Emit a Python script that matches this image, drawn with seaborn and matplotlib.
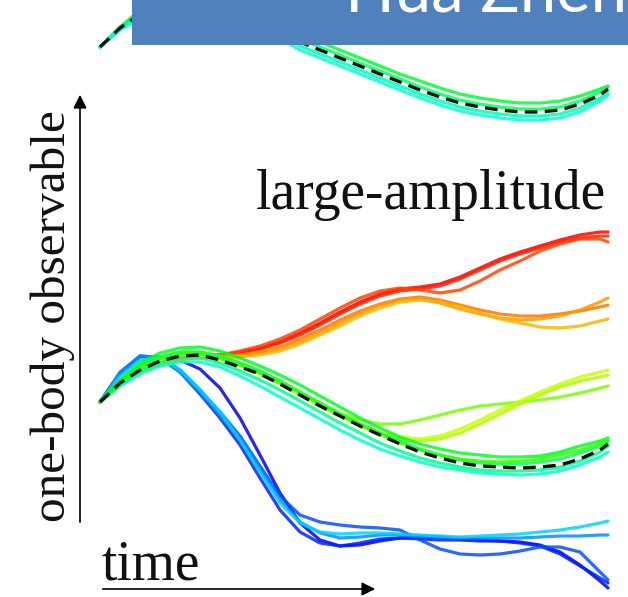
import matplotlib
matplotlib.use("Agg")
import matplotlib.pyplot as plt
import matplotlib.patches as mpatches
import pandas as pd
import seaborn as sns

sns.set_style("white")
plt.rcParams["font.family"] = ["Liberation Serif", "DejaVu Serif"]

# ---- data (time samples, observable values, screen rows) ----
time = [100, 120, 140, 160, 180, 200, 220, 240, 260, 280, 300, 320, 340, 360,
        380, 400, 420, 440, 460, 480, 500, 520, 540, 560, 580, 600, 608]

# small-amplitude panel (top, mostly hidden under the banner)
small_mean = [47, 28, 14, 6, 1, 0, 4, 12, 22, 32, 42, 50, 58, 66, 74, 82, 90, 97, 103, 107, 110, 112, 112, 110, 104, 95, 89]
small_a = [47, 27, 10, -2, -8, -9, -6, 2, 12, 22, 34, 42, 50, 58, 66, 74, 81, 88, 94, 98, 101, 103, 103, 101, 96, 89, 86]
small_c = [47, 28, 13, 4, -2, -3, 0, 8, 18, 28, 39, 47, 55, 63, 71, 79, 87, 94, 100, 104, 107, 109, 109, 107, 101, 92, 87]
small_b = [47, 29, 16, 9, 5, 5, 9, 16, 25, 35, 46, 54, 62, 70, 78, 86, 94, 101, 107, 111, 114, 116, 116, 114, 108, 98, 93]
small_d = [47, 30, 18, 11, 8, 8, 12, 20, 29, 39, 50, 58, 66, 74, 82, 90, 98, 105, 111, 115, 118, 120, 120, 118, 112, 101, 95]

# large-amplitude panel
large_mean = [402, 383, 370, 361, 356, 355, 360, 367, 374, 384, 395, 406, 416, 426, 435, 444, 452, 458, 463, 466, 467, 468, 467, 465, 459, 450, 444]

blue_1 = [402, 382, 366, 358, 360, 369, 388, 418, 455, 493, 523, 540, 546, 545, 541, 538, 537, 537, 539, 540, 541, 542, 545, 552, 565, 581, 588]
blue_2 = [402, 374, 357, 357, 370, 390, 412, 436, 466, 496, 515, 522, 525, 527, 528, 530, 540, 549, 554, 555, 554, 551, 547, 547, 552, 572, 580]
blue_3 = [402, 372, 356, 357, 372, 392, 415, 440, 470, 500, 522, 533, 538, 537, 535, 535, 536, 537, 538, 538, 538, 538, 537, 536, 536, 535, 535]
blue_4 = [402, 376, 360, 358, 370, 390, 412, 440, 472, 503, 523, 532, 534, 533, 533, 534, 535, 536, 537, 536, 535, 534, 532, 530, 527, 523, 521]
blue_5 = [402, 373, 356, 358, 372, 394, 418, 445, 478, 510, 532, 543, 546, 543, 539, 538, 539, 540, 540, 541, 541, 543, 546, 554, 566, 578, 583]

green_1 = [402, 380, 363, 353, 348, 347, 351, 358, 366, 375, 385, 396, 407, 418, 428, 437, 444, 449, 453, 455, 457, 457, 456, 452, 446, 441, 438]
green_2 = [402, 384, 371, 363, 358, 358, 363, 371, 380, 390, 401, 412, 423, 433, 443, 451, 458, 463, 467, 470, 471, 471, 470, 467, 461, 452, 446]
green_3 = [402, 386, 374, 366, 362, 362, 367, 376, 386, 397, 408, 419, 430, 440, 449, 456, 462, 467, 470, 473, 474, 475, 474, 471, 465, 457, 452]
green_4 = [402, 381, 366, 357, 352, 352, 356, 363, 371, 381, 392, 403, 414, 424, 433, 441, 449, 455, 460, 463, 464, 464, 462, 459, 453, 446, 441]
green_5 = [402, 382, 368, 359, 354, 354, 358, 365, 373, 383, 393, 404, 415, 425, 434, 443, 450, 455, 459, 461, 462, 461, 459, 455, 450, 444, 441]

yellow_1 = [402, 381, 366, 357, 352, 352, 356, 363, 371, 381, 392, 403, 413, 420, 424, 424, 420, 415, 410, 406, 404, 402, 400, 397, 393, 388, 386]
yellow_2 = [402, 382, 368, 359, 354, 354, 358, 365, 373, 383, 393, 404, 414, 424, 432, 437, 439, 436, 429, 420, 410, 401, 392, 384, 377, 372, 370]
yellow_3 = [402, 383, 369, 360, 355, 355, 359, 366, 374, 384, 395, 406, 416, 426, 434, 439, 441, 439, 433, 424, 414, 404, 395, 387, 381, 377, 375]

red_1 = [402, 384, 371, 363, 358, 356, 355, 352, 348, 342, 333, 323, 312, 302, 294, 289, 287, 284, 277, 268, 259, 252, 246, 240, 235, 232, 232]
red_2 = [402, 384, 371, 363, 358, 356, 355, 353, 349, 343, 335, 325, 314, 304, 296, 291, 289, 286, 279, 270, 261, 254, 248, 242, 238, 236, 236]
red_3 = [402, 384, 371, 363, 358, 356, 355, 351, 346, 339, 330, 319, 308, 298, 291, 288, 290, 293, 290, 281, 270, 261, 251, 244, 239, 239, 242]
orange_1 = [402, 385, 372, 364, 359, 357, 356, 355, 352, 347, 339, 330, 320, 311, 304, 299, 297, 300, 305, 310, 314, 316, 316, 314, 311, 307, 305]
orange_2 = [402, 385, 372, 364, 359, 357, 357, 356, 353, 349, 342, 333, 323, 313, 305, 300, 299, 303, 309, 314, 318, 320, 319, 316, 310, 302, 298]
orange_3 = [402, 386, 373, 365, 360, 358, 358, 357, 355, 351, 344, 335, 326, 316, 308, 302, 300, 302, 307, 313, 319, 323, 327, 328, 326, 321, 319]

banner_text = "Hua Zhen"
panel_text = "large-amplitude"
y_label = "one-body observable"
x_label = "time"

curves = [
    (small_a, "#00ff33"), (small_c, "#00ff66"), (small_b, "#00ffaa"), (small_d, "#00ffdd"),
    (blue_1, "#0000ee"), (blue_5, "#0022ff"), (blue_2, "#0050ff"), (blue_3, "#0090ff"), (blue_4, "#00d4ff"),
    (red_1, "#ff0000"), (red_2, "#ff2200"), (red_3, "#ff4400"),
    (orange_1, "#ff7700"), (orange_2, "#ff9900"), (orange_3, "#ffb400"),
    (yellow_1, "#77ff00"), (yellow_2, "#ccff00"), (yellow_3, "#aaff00"),
    (green_3, "#00ffcc"), (green_2, "#00ff88"), (green_4, "#00ff55"), (green_5, "#33ff00"), (green_1, "#00ff22"),
]
means = [small_mean, large_mean]

# ---- figure ----
fig = plt.figure(figsize=(6.28, 5.97), dpi=100)
ax = fig.add_axes([0, 0, 1, 1])

for vals, col in curves:
    df = pd.DataFrame({"t": time, "v": vals})
    sns.lineplot(data=df, x="t", y="v", ax=ax, color=col, lw=2.3, alpha=0.85,
                 sort=False, estimator=None, solid_capstyle="round", solid_joinstyle="round")

for vals in means:
    df = pd.DataFrame({"t": time, "v": vals})
    sns.lineplot(data=df, x="t", y="v", ax=ax, color="#111111", lw=2.4,
                 sort=False, estimator=None, linestyle=(0, (3.8, 2.2)))

ax.set_xlim(0, 628)
ax.set_ylim(597, 0)
ax.axis("off")

# banner
ax.add_patch(mpatches.Rectangle((132, 0), 500, 45, facecolor="#4F81BD", edgecolor="none", zorder=5))
ax.text(345, 12, banner_text, color="white", fontsize=47, family=["Lato", "DejaVu Sans"],
        ha="left", va="baseline", zorder=6)

# axes arrows
ax.annotate("", xy=(80, 92), xytext=(80, 525),
            arrowprops=dict(arrowstyle="-|>", lw=1.2, color="black", mutation_scale=20))
ax.annotate("", xy=(378, 589), xytext=(100, 589),
            arrowprops=dict(arrowstyle="-|>", lw=1.2, color="black", mutation_scale=20))

ax.text(53, 316, y_label, rotation=90, fontsize=35.5, ha="center", va="center", color="#111111")
ax.text(102, 580, x_label, fontsize=40, ha="left", va="baseline", color="#111111")
ax.text(606, 209, panel_text, fontsize=40, ha="right", va="baseline", color="#111111")

fig.savefig("out.png", dpi=100)
